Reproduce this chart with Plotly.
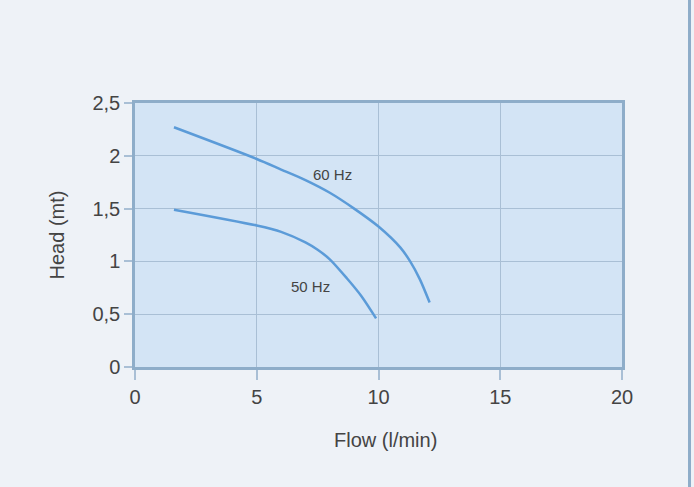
import plotly.graph_objects as go

flow_60 = [1.6, 5.0, 6.0, 7.0, 8.0, 9.0, 10.0, 10.9, 11.3, 11.7, 12.1]
head_60 = [2.27, 1.97, 1.87, 1.77, 1.65, 1.50, 1.33, 1.13, 1.00, 0.83, 0.61]
flow_50 = [1.6, 5.0, 6.0, 7.0, 7.5, 8.0, 8.7, 9.3, 9.9]
head_50 = [1.49, 1.34, 1.28, 1.18, 1.11, 1.02, 0.84, 0.67, 0.46]
x_ticks = [0, 5, 10, 15, 20]
y_ticks = [0, 0.5, 1, 1.5, 2, 2.5]

line_color = "#5b9bd8"
font = "Liberation Sans"
txt = "#444444"

fig = go.Figure()
fig.add_trace(go.Scatter(x=flow_60, y=head_60, mode="lines", name="60 Hz",
                         line=dict(color=line_color, width=2.5, shape="spline", smoothing=0.8)))
fig.add_trace(go.Scatter(x=flow_50, y=head_50, mode="lines", name="50 Hz",
                         line=dict(color=line_color, width=2.5, shape="spline", smoothing=0.8)))

fig.add_annotation(x=8.1, y=1.82, text="60 Hz", showarrow=False,
                   font=dict(family=font, size=15, color=txt))
fig.add_annotation(x=7.2, y=0.76, text="50 Hz", showarrow=False,
                   font=dict(family=font, size=15, color=txt))

# x-axis title, placed slightly right of centre as in the original
fig.add_annotation(xref="paper", yref="paper", x=0.515, y=-0.2765,
                   text="Flow (l/min)", showarrow=False,
                   xanchor="center", yanchor="middle",
                   font=dict(family=font, size=20, color=txt))

# decorative right-hand frame line of the page
fig.add_shape(type="line", xref="paper", yref="paper", layer="above",
              x0=1.1386, x1=1.1386, y0=-0.46, y1=1.40,
              line=dict(color="#8eadc9", width=3))

axis_common = dict(showline=True, linecolor="#8eadc9", linewidth=2.5, mirror=True,
                   showgrid=True, gridcolor="#a9bfd5", gridwidth=1,
                   ticks="outside", tickcolor="#a9bfd5", tickwidth=1.5,
                   tickfont=dict(family=font, size=20, color=txt),
                   zeroline=False)

fig.update_layout(
    width=694, height=487,
    margin=dict(l=135, r=72, t=103, b=120),
    paper_bgcolor="#eef2f7", plot_bgcolor="#d3e4f5",
    showlegend=False,
    separators=",.",
    font=dict(family=font, color=txt),
    xaxis=dict(range=[0, 20], tickvals=x_ticks, ticklen=10, **axis_common),
    yaxis=dict(range=[0, 2.5], tickvals=y_ticks, ticklen=8,
               title=dict(text="Head (mt)", font=dict(family=font, size=20, color=txt), standoff=23),
               **axis_common),
)

fig.write_html("out.html", config={"displayModeBar": False},
               post_script="document.body.style.margin='0';")
